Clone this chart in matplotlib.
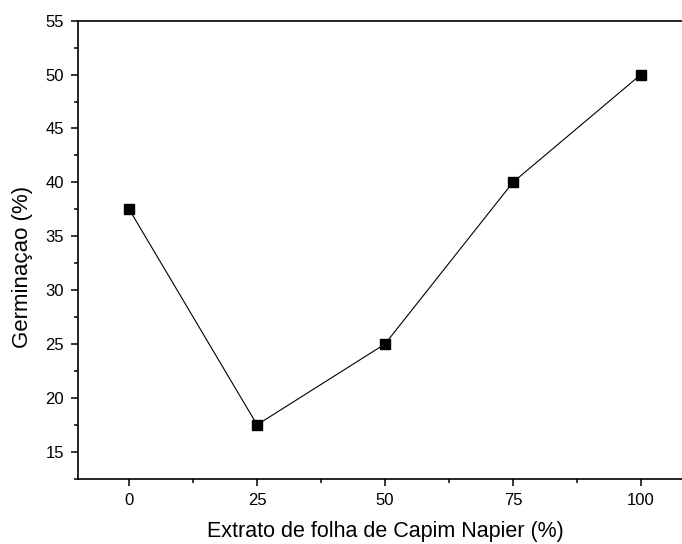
import matplotlib
matplotlib.use('Agg')
import matplotlib.pyplot as plt
from matplotlib.ticker import MultipleLocator

# Dados: extrato de folha de capim napier vs germinação
extrato = [0, 25, 50, 75, 100]
germinacao = [37.5, 17.5, 25, 40, 50]

plt.rcParams['font.family'] = ['Liberation Sans', 'DejaVu Sans']

fig = plt.figure(figsize=(6.82, 5.44), dpi=100)
# o eixo passa da borda direita da figura (como no original, recortado)
ax = fig.add_axes([78 / 682, 1 - 478.7 / 544, 614 / 682, 458 / 544])

ax.plot(extrato, germinacao, color='black', linewidth=0.8,
        marker='s', markersize=7, markerfacecolor='black', markeredgecolor='black')

ax.set_xlim(-10, 110)
ax.set_ylim(12.5, 55)
ax.xaxis.set_major_locator(MultipleLocator(25))
ax.xaxis.set_minor_locator(MultipleLocator(12.5))
ax.yaxis.set_major_locator(MultipleLocator(5))
ax.yaxis.set_minor_locator(MultipleLocator(2.5))

ax.tick_params(which='major', direction='out', length=5, width=1.1, labelsize=12, pad=5)
ax.tick_params(which='minor', direction='out', length=3, width=1.1)
ax.tick_params(top=False, right=False)

for s in ax.spines.values():
    s.set_linewidth(1.2)

ax.set_xlabel('Extrato de folha de Capim Napier (%)', fontsize=15.5)
ax.set_ylabel('Germinaçao (%)', fontsize=16)
ax.xaxis.set_label_coords(0.5, -0.093)
ax.yaxis.set_label_coords(-0.073, 0.462)

fig.savefig('out.png', dpi=100)
